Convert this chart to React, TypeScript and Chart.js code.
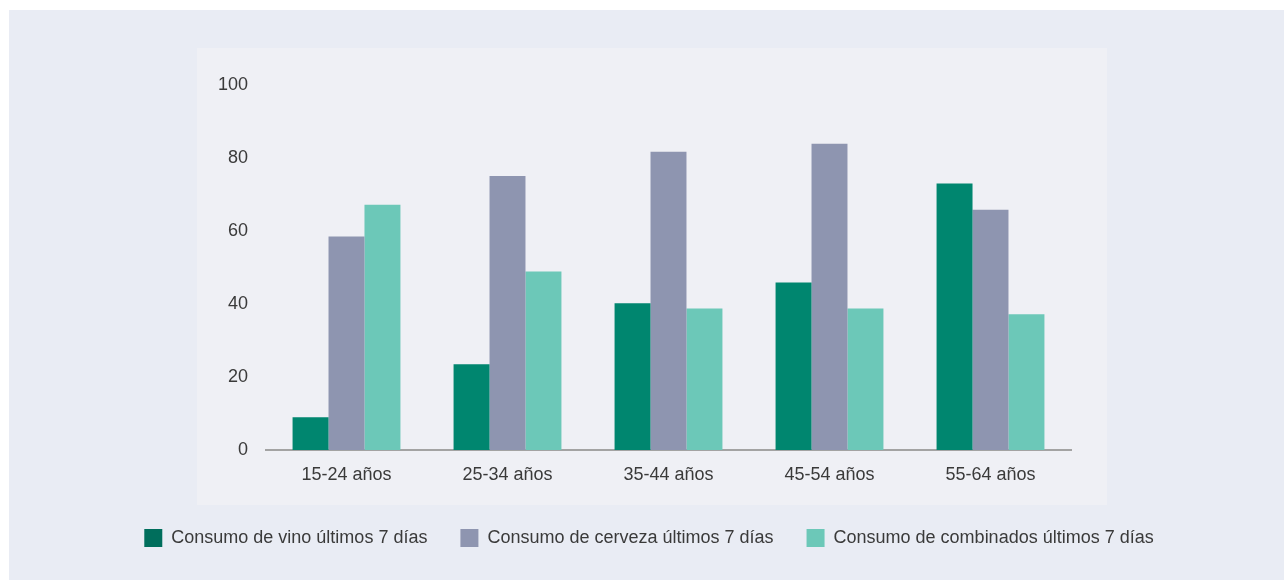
import React, { useEffect, useRef } from "react";
import { Chart, registerables } from "chart.js";

Chart.register(...registerables);

const categories = ["15-24 años", "25-34 años", "35-44 años", "45-54 años", "55-64 años"];
const seriesNames = [
  "Consumo de vino últimos 7 días",
  "Consumo de cerveza últimos 7 días",
  "Consumo de combinados últimos 7 días",
];
const vino = [9.0, 23.5, 40.2, 45.9, 73.0];
const cerveza = [58.5, 75.1, 81.7, 83.9, 65.8];
const combinados = [67.2, 48.9, 38.8, 38.8, 37.2];
const yTicks = [0, 20, 40, 60, 80, 100];

const barColors = ["#00866f", "#8e95b0", "#6cc8b8"];
const legendColors = ["#006e5c", "#8e95b0", "#6cc8b8"];

const bgPlugin = {
  id: "bgPanels",
  beforeDraw(chart: any) {
    const ctx = chart.ctx;
    ctx.save();
    ctx.fillStyle = "#ffffff";
    ctx.fillRect(0, 0, chart.width, chart.height);
    ctx.fillStyle = "#e9ecf4";
    ctx.fillRect(9, 10, chart.width - 9, chart.height - 10);
    ctx.fillStyle = "#eff0f5";
    ctx.fillRect(197, 48, 910, 457);
    ctx.restore();
  },
};

export default function App() {
  const ref = useRef<HTMLCanvasElement>(null);
  useEffect(() => {
    if (!ref.current) return;
    const font = { family: "'Liberation Sans', Arial, Helvetica, sans-serif", size: 18 };
    const chart = new Chart(ref.current, {
      type: "bar",
      data: {
        labels: categories,
        datasets: [vino, cerveza, combinados].map((d, i) => ({
          label: seriesNames[i],
          data: d,
          backgroundColor: barColors[i],
          borderWidth: 0,
          barPercentage: 1,
          categoryPercentage: 0.67,
          yAxisID: "y",
        })),
      },
      options: {
        responsive: false,
        animation: false,
        maintainAspectRatio: false,
        layout: { padding: { left: 14, right: 0, top: 85, bottom: 23 } },
        plugins: {
          tooltip: { enabled: false },
          legend: {
            position: "bottom",
            labels: {
              font,
              color: "#3a3a3a",
              boxWidth: 18,
              boxHeight: 18,
              padding: 33,
              generateLabels: (c: any) =>
                c.data.datasets.map((ds: any, i: number) => ({
                  text: ds.label,
                  fillStyle: legendColors[i],
                  strokeStyle: legendColors[i],
                  lineWidth: 0,
                  hidden: false,
                  datasetIndex: i,
                  fontColor: "#3a3a3a",
                })),
            },
          },
        },
        scales: {
          x: {
            grid: { display: false, drawTicks: false },
            border: { display: true, color: "#a3a3a3", width: 2 },
            ticks: { font, color: "#3a3a3a", padding: 14 },
            afterFit: (s: any) => {
              s.height = 46;
            },
          },
          y: {
            min: 0,
            max: 100,
            afterBuildTicks: (s: any) => {
              s.ticks = yTicks.map((v) => ({ value: v }));
            },
            grid: { display: false, drawTicks: false },
            border: { display: false },
            ticks: { font, color: "#3a3a3a", padding: 18 },
            afterFit: (s: any) => {
              s.width = 252;
            },
          },
          y2: {
            position: "right",
            display: true,
            grid: { display: false, drawTicks: false },
            border: { display: false },
            ticks: { display: false },
            afterFit: (s: any) => {
              s.width = 213;
            },
          },
        },
      },
      plugins: [bgPlugin],
    });
    return () => chart.destroy();
  }, []);
  return (
    <div style={{ position: "fixed", left: 0, top: 0, width: 1284, height: 580, background: "#fff" }}>
      <canvas ref={ref} width={1284} height={580} style={{ display: "block", width: 1284, height: 580 }} />
    </div>
  );
}
